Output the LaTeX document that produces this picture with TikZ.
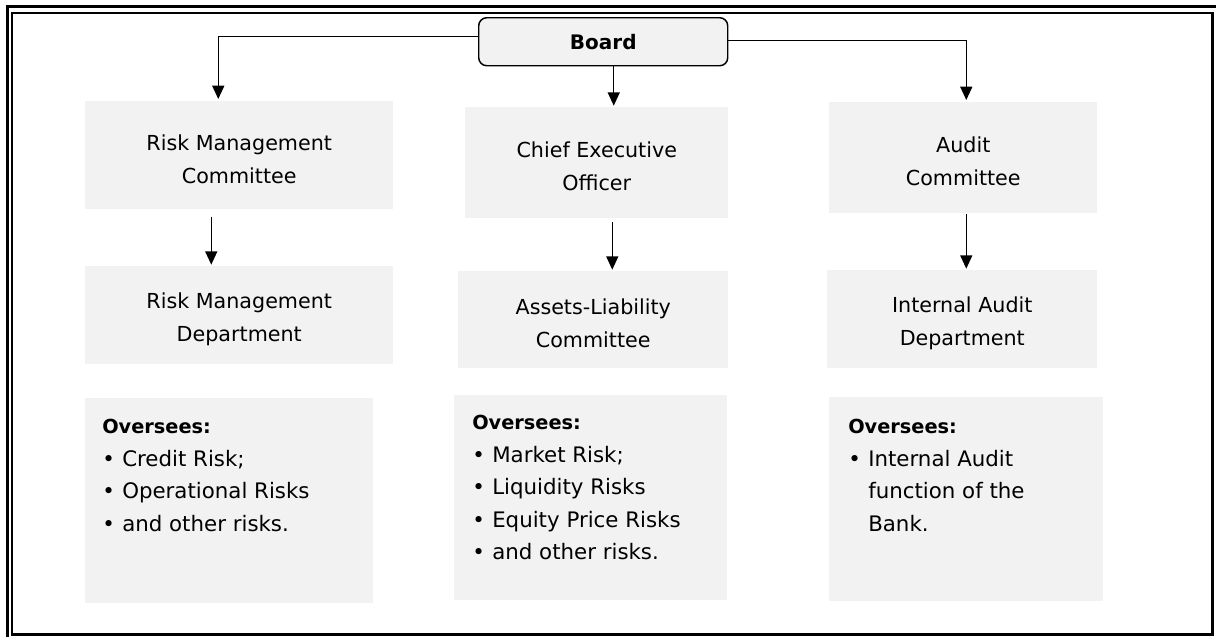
\documentclass[tikz,border=0pt]{standalone}
\usepackage{fontspec}
\setmainfont{DejaVu Sans}
\usetikzlibrary{arrows.meta,calc}
\definecolor{boxgray}{HTML}{F2F2F2}
\newcommand\blt{\makebox[15pt][l]{•}}
\newcommand\bind{\hspace*{15pt}}
\newcommand\tup{\rule{0pt}{17.5pt}}
\newcommand\ovhead{{\fontsize{14.5}{24.4}\selectfont\bfseries Oversees:}}
\begin{document}
\begin{tikzpicture}[x=0.75pt,y=-0.75pt]
\tikzset{
  box/.style={fill=boxgray, draw=none, inner sep=0pt, anchor=north west,
    font=\fontsize{15.5}{24.5}\selectfont, align=center},
  boardbox/.style={fill=boxgray, draw=black, line width=1.1pt, rounded corners=6pt,
    inner sep=0pt, anchor=north west, minimum width=186.75pt, minimum height=36pt,
    font=\fontsize{15}{18}\selectfont\bfseries},
  ovtext/.style={inner sep=0pt, anchor=north west, align=left,
    font=\fontsize{16}{24.4}\selectfont},
  conn/.style={line width=1.1pt, -{Triangle[width=9pt,length=10pt]}},
}
\useasboundingbox (0,0) rectangle (1216,637);
% frame
\draw[line width=2.25pt] (7.5,5) -- (7.5,637);
\draw[line width=2.25pt] (6,6.5) -- (1216,6.5);
\draw[line width=1.5pt] (12,634.5) -- (12,13) -- (1212.5,13);
\draw[line width=2.5pt] (1212.5,12.25) -- (1212.5,634.5) -- (11,634.5);
% board
\node[boardbox] (board) at (478,17) {Board};
% first row
\node[box, minimum width=231pt, minimum height=81pt] (rmc) at (85,101) {\tup Risk Management\\Committee};
\node[box, minimum width=197.25pt, minimum height=83.25pt] (ceo) at (465,107) {\tup Chief Executive\\Officer};
\node[box, minimum width=201pt, minimum height=83.25pt] (ac) at (829,102) {\tup Audit\\Committee};
% second row
\node[box, minimum width=231pt, minimum height=73.5pt] (rmd) at (85,266) {\tup Risk Management\\Department};
\node[box, minimum width=202.5pt, minimum height=72.75pt] (alc) at (458,271) {\tup Assets-Liability\\Committee};
\node[box, minimum width=202.5pt, minimum height=73.5pt] (iad) at (827,270) {\tup Internal Audit\\Department};
% third row
\node[box, minimum width=216pt, minimum height=153.75pt] (ovl) at (85,398) {};
\node[box, minimum width=204.75pt, minimum height=153.75pt] (ovm) at (454,395) {};
\node[box, minimum width=205.5pt, minimum height=153pt] (ovr) at (829,397) {};
\node[ovtext] (tl) at ($(ovl.north west)+(17,21)$) {\ovhead\\\blt Credit Risk;\\\blt Operational Risks\\\blt and other risks.};
\node[ovtext] (tm) at ($(ovm.north west)+(18,20)$) {\ovhead\\\blt Market Risk;\\\blt Liquidity Risks\\\blt Equity Price Risks\\\blt and other risks.};
\node[ovtext] (tr) at ($(ovr.north west)+(19,22)$) {\ovhead\\\blt Internal Audit\\\bind function of the\\\bind Bank.};
% connector anchor points
\coordinate (bl) at ($(board.west)+(0,-5)$);
\coordinate (br) at ($(board.east)+(0,-1)$);
\coordinate (bm) at ($(board.south)+(10.5,0)$);
\coordinate (l2) at ($(rmc.south)+(-28,7)$);
\coordinate (m2) at ($(ceo.south)+(15.5,3)$);
\coordinate (r2) at ($(ac.south)+(3,0)$);
\coordinate (rmcin) at ($(rmc.north)+(-21,0)$);
\coordinate (acin) at ($(ac.north)+(3,0)$);
% connectors
\draw[conn, shorten >=1.5pt] (bl) -| (rmcin);
\draw[conn, shorten >=1.5pt] (br) -| (acin);
\draw[conn, shorten >=1pt] (bm) -- (bm |- ceo.north);
\draw[conn, shorten >=1pt] (l2) -- (l2 |- rmd.north);
\draw[conn, shorten >=1pt] (m2) -- (m2 |- alc.north);
\draw[conn, shorten >=1pt] (r2) -- (r2 |- iad.north);
\end{tikzpicture}
\end{document}
